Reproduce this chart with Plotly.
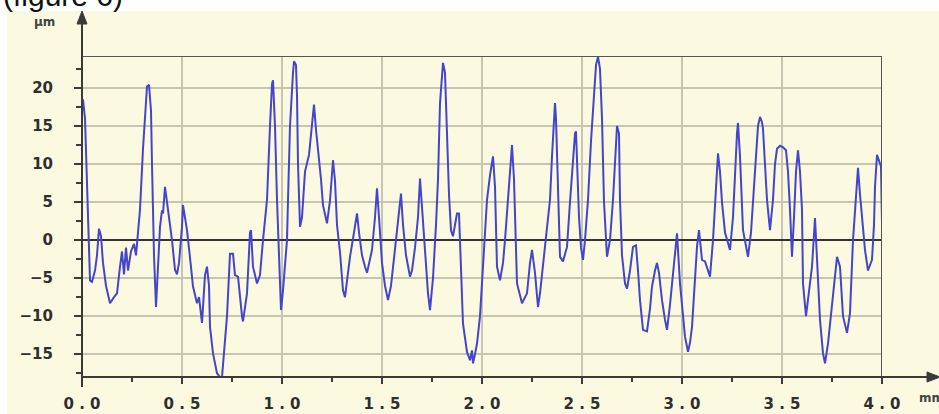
import plotly.graph_objects as go

# ---- data (x in mm, y in µm) ----
profile_x_mm = (
    [0.000, 0.005, 0.015, 0.025, 0.030, 0.035, 0.040, 0.050, 0.065, 0.075, 0.085, 0.095, 0.105, 0.120, 0.140,
     0.160, 0.175, 0.190, 0.200, 0.210, 0.220, 0.230, 0.245, 0.260, 0.270, 0.280, 0.290, 0.305, 0.315, 0.325,
     0.335, 0.345, 0.350, 0.360, 0.370, 0.380, 0.390, 0.400, 0.405, 0.415, 0.425, 0.435, 0.450, 0.465, 0.475, 0.485]
    + [0.500, 0.505, 0.515, 0.525, 0.540, 0.555, 0.575, 0.585, 0.600, 0.615, 0.625, 0.635, 0.640, 0.655, 0.675,
       0.690, 0.700, 0.710, 0.725, 0.740, 0.755, 0.765, 0.780, 0.800, 0.805, 0.825, 0.840, 0.845, 0.855, 0.875,
       0.890, 0.905, 0.925, 0.940, 0.950, 0.955, 0.965, 0.975, 0.990, 0.995]
    + [1.005, 1.025, 1.030, 1.040, 1.055, 1.060, 1.070, 1.075, 1.080, 1.090, 1.100, 1.115, 1.135, 1.150, 1.160,
       1.170, 1.185, 1.195, 1.205, 1.225, 1.240, 1.255, 1.265, 1.275, 1.290, 1.305, 1.315, 1.340, 1.360, 1.375,
       1.385, 1.400, 1.415, 1.425, 1.440, 1.450, 1.465, 1.475, 1.485]
    + [1.500, 1.515, 1.530, 1.545, 1.565, 1.580, 1.595, 1.605, 1.620, 1.640, 1.650, 1.665, 1.680, 1.690, 1.700,
       1.715, 1.730, 1.740, 1.755, 1.770, 1.780, 1.790, 1.800, 1.805, 1.815, 1.825, 1.835, 1.845, 1.855, 1.865,
       1.875, 1.885, 1.890, 1.905, 1.925, 1.940, 1.950, 1.955, 1.965, 1.975, 1.990]
    + [2.005, 2.025, 2.040, 2.055, 2.065, 2.075, 2.090, 2.105, 2.115, 2.130, 2.140, 2.150, 2.160, 2.175, 2.200,
       2.215, 2.225, 2.240, 2.250, 2.265, 2.280, 2.290, 2.305, 2.325, 2.340, 2.350, 2.360, 2.365, 2.370, 2.380,
       2.390, 2.405, 2.415, 2.425, 2.440, 2.455, 2.465, 2.470, 2.475, 2.485, 2.495]
    + [2.505, 2.515, 2.530, 2.545, 2.560, 2.570, 2.580, 2.590, 2.600, 2.610, 2.625, 2.640, 2.655, 2.665, 2.675,
       2.685, 2.690, 2.700, 2.715, 2.725, 2.740, 2.755, 2.770, 2.780, 2.790, 2.805, 2.825, 2.840, 2.850, 2.865,
       2.875, 2.885, 2.900, 2.915, 2.925, 2.940, 2.950, 2.965, 2.975, 2.990]
    + [3.005, 3.015, 3.030, 3.040, 3.050, 3.065, 3.075, 3.085, 3.100, 3.115, 3.130, 3.140, 3.155, 3.170, 3.180,
       3.190, 3.200, 3.215, 3.225, 3.240, 3.255, 3.265, 3.275, 3.280, 3.290, 3.305, 3.320, 3.330, 3.345, 3.355,
       3.370, 3.380, 3.390, 3.400, 3.405, 3.415, 3.425, 3.440, 3.455, 3.465, 3.475, 3.490]
    + [3.505, 3.520, 3.530, 3.540, 3.550, 3.560, 3.570, 3.580, 3.590, 3.600, 3.605, 3.620, 3.630, 3.650, 3.665,
       3.675, 3.690, 3.705, 3.715, 3.730, 3.755, 3.775, 3.790, 3.805, 3.825, 3.840, 3.855, 3.870, 3.880, 3.890,
       3.900, 3.915, 3.930, 3.950, 3.960, 3.965, 3.975, 3.985, 3.995, 4.000]
)

profile_y_um = (
    [17, 18.5, 16, 7, 2, -3, -5.3, -5.5, -4, -2, 1.5, 0.5, -3, -6, -8.3,
     -7.5, -7, -3.5, -1.5, -4.5, -1, -4, -1.5, -0.5, -2, 1, 4, 12, 17, 20.2,
     20.4, 17, 10, -2, -8.8, -4, 1.75, 3.9, 3.5, 7, 5, 3, 0, -3.9, -4.5, -3]
    + [1.75, 4.6, 3, 1.3, -2.3, -6.1, -8.3, -7.5, -10.9, -4.6, -3.5, -6, -11.4, -14.9, -17.5,
       -18, -18, -14.9, -10, -1.8, -1.8, -4.6, -4.8, -10, -10.7, -7, 1.0, 1.3, -3.5, -5.7,
       -4.6, 0, 5.3, 15, 20.5, 21, 15, 5.3, -7.9, -9.2]
    + [-6.6, 0, 5.3, 15, 22, 23.5, 23, 19, 10, 1.75, 3, 9, 11.2, 15, 17.8,
       14.5, 11, 8, 4.6, 2.2, 5.2, 10.5, 7.8, 2, -1.6, -6.6, -7.5, -2.2, 1, 3.5,
       1, -2, -3.5, -4.3, -2.5, -1.3, 3, 6.8, 3]
    + [-3, -6, -7.9, -6, -1, 2, 6.1, 2, -2, -4.8, -4, -1, 3, 8.1, 4,
       -2, -7, -9.2, -5, 2, 8, 18, 22.5, 23.3, 22, 14, 6, 1.3, 0.5, 2,
       3.5, 3.5, 0, -11, -14.7, -15.8, -14.5, -16.2, -15, -13.6, -10]
    + [-3.5, 5.3, 8.5, 11, 7, -3.5, -5.3, -3, 0, 5, 9.5, 12.5, 8, -5.7, -8.3,
       -7.5, -7, -3, -1.3, -4.3, -8.8, -7, -3.5, 1, 5.3, 11, 17, 18, 16, 5,
       -2.2, -2.8, -2, -0.9, 5, 10, 14, 14.3, 10, 3, -1]
    + [-2.6, 0, 5.3, 13, 19, 23, 24.1, 22.5, 16, 5, -2.2, 0, 5.3, 10, 15,
       14, 5.3, -2, -5.7, -6.4, -4, -0.9, -0.7, -4, -7.9, -11.8, -12, -9, -6.1, -4,
       -3, -4.3, -7.9, -10.5, -11.8, -8.5, -5.7, -2, 0.9, -5.7]
    + [-10, -12.7, -14.7, -13.5, -11.4, -5, -0.9, 1.3, -2.6, -2.8, -4, -4.8, 0, 8, 11.4,
       9, 5, 1, 0, -1.3, 3, 9, 14, 15.4, 11, 1.3, -1, -2.2, 1, 5.3,
       11, 15, 16.2, 15.5, 14.6, 10, 5.3, 1.3, 5.3, 10, 12, 12.4]
    + [12.2, 11.8, 9, 4, -2.2, 3, 9, 11.8, 9, 4, -5.7, -10, -7.9, -3.5, 2.9,
       -3, -10.5, -14.9, -16.2, -13.6, -7.5, -2.2, -3.5, -10, -12.2, -9.6, 0, 6, 9.5, 6,
       3.1, -1.3, -4, -2.6, 2, 7, 11.2, 10.5, 9.7, 2.2]
)

x_tick_vals = [0.0, 0.5, 1.0, 1.5, 2.0, 2.5, 3.0, 3.5, 4.0]
x_tick_text = ["0 . 0", "0 . 5", "1 . 0", "1 . 5", "2 . 0", "2 . 5", "3 . 0", "3 . 5", "4 . 0"]
y_tick_vals = [-15, -10, -5, 0, 5, 10, 15, 20]
x_range = [0.0, 4.0]
y_range = [-18.0, 24.2]

assert len(profile_x_mm) == len(profile_y_um)

BG = "#FBFAE0"
AXIS = "#3a3a3a"
GRID = "#C6C5B2"
LINE = "#4444CC"

fig = go.Figure()
fig.add_trace(go.Scatter(
    x=profile_x_mm, y=profile_y_um, mode="lines",
    line=dict(color=LINE, width=2), hoverinfo="x+y", showlegend=False,
))

W, H = 939, 414
L, R, T, B = 82, 57, 56, 37
pw, ph = W - L - R, H - T - B


def px(xp):
    return (xp - L) / pw


def py(yp):
    return (H - B - yp) / ph


shapes = [
    # pale yellow card behind the chart
    dict(type="rect", xref="paper", yref="paper", x0=px(7), x1=px(W + 2), y0=py(H + 2), y1=py(11),
         fillcolor=BG, line=dict(width=0), layer="below"),
    # top and right frame
    dict(type="line", xref="x", yref="y", x0=x_range[0], x1=x_range[1], y0=y_range[1], y1=y_range[1],
         line=dict(color="#555555", width=2)),
    dict(type="line", xref="x", yref="y", x0=x_range[1], x1=x_range[1], y0=y_range[0], y1=y_range[1],
         line=dict(color="#555555", width=2)),
    # y axis with arrow
    dict(type="line", xref="paper", yref="paper", x0=0, x1=0, y0=py(387), y1=py(20),
         line=dict(color=AXIS, width=2)),
    dict(type="path", xref="paper", yref="paper",
         path=f"M {px(82)} {py(11)} L {px(77)} {py(24)} L {px(87)} {py(24)} Z",
         fillcolor=AXIS, line=dict(color=AXIS, width=1)),
    # x axis with arrow
    dict(type="line", xref="paper", yref="paper", x0=0, x1=px(930), y0=0, y1=0,
         line=dict(color=AXIS, width=2)),
    dict(type="path", xref="paper", yref="paper",
         path=f"M {px(940)} {py(377)} L {px(927)} {py(372)} L {px(927)} {py(382)} Z",
         fillcolor=AXIS, line=dict(color=AXIS, width=1)),
]

annotations = [
    dict(text="(figure 6)", xref="paper", yref="paper", x=px(1), y=py(14), xanchor="left", yanchor="bottom",
         showarrow=False, font=dict(family="Liberation Sans, Arial", size=30, color="#111111")),
    dict(text="<b>μm</b>", xref="paper", yref="paper", x=px(44), y=py(22), xanchor="center", yanchor="middle",
         showarrow=False, font=dict(family="DejaVu Sans", size=12, color="#444444")),
    dict(text="<b>mm</b>", xref="paper", yref="paper", x=px(917), y=py(398), xanchor="left", yanchor="middle",
         showarrow=False, font=dict(family="DejaVu Sans", size=12, color="#444444")),
]

tickfont = dict(family="DejaVu Sans", size=15, color="#2e2e2e", weight="bold")

fig.update_layout(
    width=W, height=H, autosize=False,
    margin=dict(l=L, r=R, t=T, b=B, pad=0, autoexpand=False),
    paper_bgcolor="white", plot_bgcolor=BG,
    shapes=shapes, annotations=annotations, showlegend=False,
    xaxis=dict(
        range=x_range, tickmode="array", tickvals=x_tick_vals, ticktext=x_tick_text,
        showgrid=True, gridcolor=GRID, gridwidth=1.5, zeroline=False, showline=False, automargin=False,
        ticks="outside", ticklen=6, tickwidth=1.5, tickcolor=AXIS,
        minor=dict(ticks="outside", ticklen=4, dtick=0.25, tick0=0, tickcolor=AXIS, showgrid=False),
        tickfont=tickfont, ticklabelstandoff=7,
    ),
    yaxis=dict(
        range=y_range, tickmode="array", tickvals=y_tick_vals,
        showgrid=True, gridcolor=GRID, gridwidth=1.5, automargin=False,
        zeroline=True, zerolinecolor="#333333", zerolinewidth=1.5, showline=False,
        ticks="outside", ticklen=7, tickwidth=1.5, tickcolor=AXIS,
        minor=dict(ticks="outside", ticklen=5, dtick=2.5, tick0=0, tickcolor=AXIS, showgrid=False),
        tickfont=tickfont, ticklabelstandoff=18,
    ),
)

fig.write_html(
    "out.html",
    config={"responsive": False, "displayModeBar": False},
    post_script="document.body.style.margin='0';document.body.style.overflow='hidden';",
)
